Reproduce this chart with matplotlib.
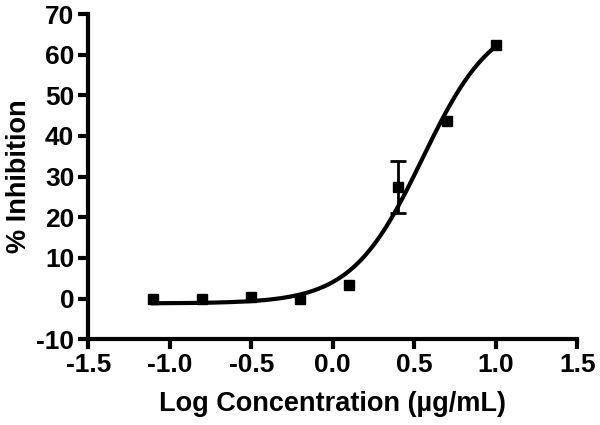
import numpy as np
import matplotlib
matplotlib.use('Agg')
import matplotlib.pyplot as plt

plt.rcParams['font.family'] = ['Liberation Sans', 'DejaVu Sans']
plt.rcParams['font.weight'] = 'bold'
plt.rcParams['axes.unicode_minus'] = False

# measured points
log_conc = [-1.1, -0.8, -0.5, -0.2, 0.1, 0.4, 0.7, 1.0]
inhibition = [-0.2, 0.0, 0.3, 0.0, 3.4, 27.4, 43.8, 62.5]
inhibition_err = [0, 0, 0, 0, 0, 6.4, 0, 0]

# 4PL fit parameters (bottom, top, logEC50, hill)
bottom, top, log_ec50, hill = -1.2, 70.0, 0.55, 2.0


def four_pl(x):
    return bottom + (top - bottom) / (1 + 10 ** ((log_ec50 - x) * hill))


fig = plt.figure(figsize=(6, 4.25), dpi=100)
ax = fig.add_axes([0.147, 0.202, 0.815, 0.765])

xs = np.linspace(min(log_conc), max(log_conc), 300)
ax.plot(xs, four_pl(xs), color='black', lw=3)

# error bars only where there is spread
for x, y, e in zip(log_conc, inhibition, inhibition_err):
    if e > 0:
        ax.errorbar(x, y, yerr=e, fmt='none', ecolor='black',
                    elinewidth=2, capsize=6, capthick=2)
ax.plot(log_conc, inhibition, 's', color='black', ms=7)

ax.set_xlim(-1.5, 1.5)
ax.set_ylim(-10, 70)
ax.set_xticks(np.arange(-1.5, 1.51, 0.5))
ax.set_xticklabels(['-1.5', '-1.0', '-0.5', '0.0', '0.5', '1.0', '1.5'])
ax.set_yticks(np.arange(-10, 71, 10))

for side in ['top', 'right']:
    ax.spines[side].set_visible(False)
for side in ['left', 'bottom']:
    ax.spines[side].set_linewidth(3)
ax.tick_params(width=3, length=7, labelsize=19, pad=3)

ax.set_xlabel('Log Concentration (µg/mL)', fontsize=19.5, fontweight='bold', labelpad=10)
ax.set_ylabel('% Inhibition', fontsize=19.5, fontweight='bold', labelpad=3)

fig.savefig('out.png', dpi=100)
